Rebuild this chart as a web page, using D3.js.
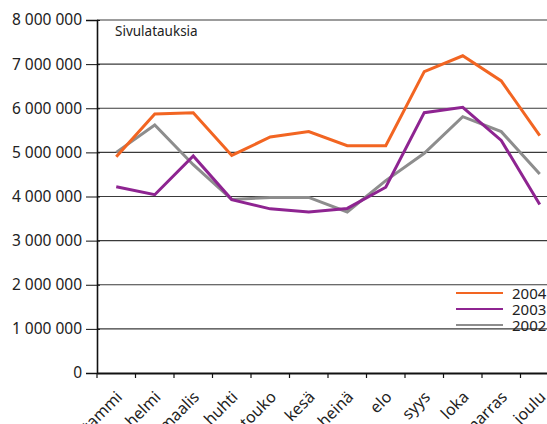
<!DOCTYPE html>
<html>
<head>
<meta charset="utf-8">
<script src="https://cdn.jsdelivr.net/npm/d3@7"></script>
<style>
  body { margin: 0; background: #fff; }
  text { font-family: "Noto Sans", "Open Sans", sans-serif; fill: #222; }
</style>
</head>
<body>
<svg id="kuva"></svg>
<script>
const kuukaudet = ['tammi','helmi','maalis','huhti','touko','kesä','heinä','elo','syys','loka','marras','joulu']
const vuosi2004 = [4900000,5870000,5900000,4930000,5350000,5470000,5150000,5150000,6830000,7190000,6620000,5380000]
const vuosi2003 = [4220000,4040000,4920000,3930000,3720000,3650000,3730000,4210000,5900000,6020000,5270000,3820000]
const vuosi2002 = [5000000,5620000,4720000,3930000,3980000,3980000,3650000,4360000,4980000,5810000,5470000,4510000]
const yTicks = [0,1000000,2000000,3000000,4000000,5000000,6000000,7000000,8000000]

const sarjat = [
  {nimi:'2004', arvot: vuosi2004, vari:'#f26522'},
  {nimi:'2003', arvot: vuosi2003, vari:'#8e2491'},
  {nimi:'2002', arvot: vuosi2002, vari:'#8d8d8d'}
]

const leveys = 547, korkeus = 424
const vasen = 97, yla = 20, ala = 373

let svg = d3.select('#kuva').attr('width', leveys).attr('height', korkeus)

let xScale = d3.scaleBand().domain(kuukaudet).range([vasen, vasen + 12*38.5]).padding(0)
let yScale = d3.scaleLinear().domain([0, 8000000]).range([ala, yla])

let muoto = d => d3.format(',')(d).replace(/,/g, ' ')

// ruudukko
svg.append('g')
   .selectAll('line')
   .data(yTicks.filter(d => d > 0))
   .enter()
   .append('line')
   .attr('x1', vasen).attr('x2', leveys)
   .attr('y1', d => yScale(d)).attr('y2', d => yScale(d))
   .attr('stroke', '#3a3a3a').attr('stroke-width', 1.2)

// y-akseli
let yAxis = d3.axisLeft(yScale).tickValues(yTicks).tickFormat(muoto).tickSize(11).tickPadding(4)
let yG = svg.append('g').attr('transform', 'translate(' + vasen + ',0)').call(yAxis)
yG.select('.domain').attr('stroke', '#111').attr('stroke-width', 1.6)
yG.selectAll('.tick line').attr('stroke', '#111').attr('x2', -11).attr('x1', 3)
yG.selectAll('text').style('font-size', '15.5px').attr('fill', '#222')

// x-akseli
let xAxis = d3.axisBottom(xScale).tickSize(0).tickFormat('')
let xG = svg.append('g').attr('transform', 'translate(0,' + ala + ')').call(xAxis)
xG.select('.domain').attr('stroke', '#111').attr('stroke-width', 2)
xG.selectAll('.rajat')
  .data(kuukaudet)
  .enter()
  .append('line')
  .attr('x1', d => xScale(d)).attr('x2', d => xScale(d))
  .attr('y1', 0).attr('y2', 5)
  .attr('stroke', '#111').attr('stroke-width', 1.2)
xG.selectAll('.nimi')
  .data(kuukaudet)
  .enter()
  .append('text')
  .attr('transform', d => 'translate(' + (xScale(d) + xScale.bandwidth()/2 + 7) + ',25) rotate(-45)')
  .attr('text-anchor', 'end')
  .style('font-size', '16px')
  .attr('fill', '#222')
  .text(d => d)

// viivat
let viiva = d3.line()
   .x((d, i) => xScale(kuukaudet[i]) + xScale.bandwidth()/2)
   .y(d => yScale(d))

svg.selectAll('.sarja')
   .data(sarjat.slice().reverse())
   .enter()
   .append('path')
   .attr('d', d => viiva(d.arvot))
   .attr('fill', 'none')
   .attr('stroke', d => d.vari)
   .attr('stroke-width', 3)
   .attr('stroke-linejoin', 'miter')

// otsikko
svg.append('text').attr('x', 115).attr('y', 36).style('font-size', '13.5px').text('Sivulatauksia')

// selite
let selite = svg.append('g')
sarjat.forEach((s, i) => {
  let y = 293 + i*16
  selite.append('line').attr('x1', 456).attr('x2', 503).attr('y1', y).attr('y2', y)
        .attr('stroke', s.vari).attr('stroke-width', 2.2)
  selite.append('text').attr('x', 512).attr('y', y + 6).style('font-size', '15px').text(s.nimi)
})
</script>
</body>
</html>
